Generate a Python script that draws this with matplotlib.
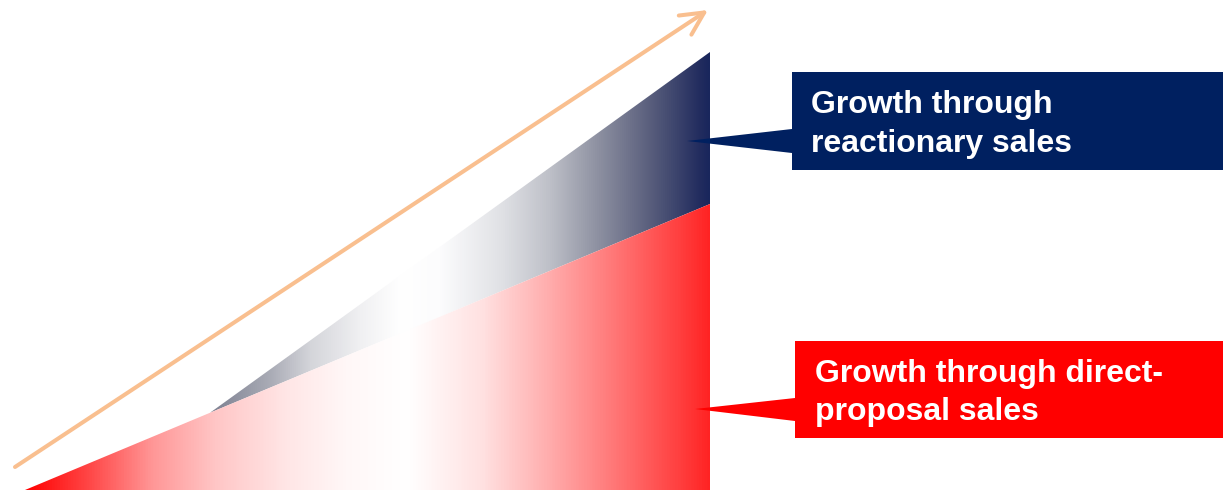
import matplotlib.pyplot as plt
from matplotlib.patches import Polygon
from matplotlib.colors import LinearSegmentedColormap
import numpy as np

# Sales growth over time: the lower wedge is direct-proposal sales,
# the upper wedge is growth through reactionary sales
x_direct = [25, 710]
direct_sales = [1, 287]
x_reactive = [210, 710]
reactive_top = [79, 439]
trend_x = [15, 708]
trend_y = [24, 481]

labels = ['Growth through\nreactionary sales', 'Growth through direct-\nproposal sales']

plt.rcParams['font.family'] = ['Liberation Sans', 'DejaVu Sans']

fig = plt.figure(figsize=(12.23, 4.91), dpi=100)
ax = fig.add_axes([0, 0, 1, 1])
ax.set_xlim(0, 1223)
ax.set_ylim(0, 491)
ax.axis('off')

# red -> white -> red fade (green/blue channel level at each stop)
red_stops = [(0.0, 0.0), (0.09, 0.27), (0.185, 0.59), (0.28, 0.78), (0.38, 0.9),
             (0.47, 0.97), (0.56, 1.0), (0.67, 0.88), (0.76, 0.69),
             (0.86, 0.47), (0.96, 0.24), (1.0, 0.14)]
red_cmap = LinearSegmentedColormap.from_list(
    'red_fade', [(t, (1, v, v)) for t, v in red_stops])

navy_stops = [(0.0, (125, 128, 145)), (0.12, (170, 172, 182)), (0.2, (212, 213, 218)),
              (0.3, (240, 240, 242)), (0.38, (255, 255, 255)), (0.46, (252, 252, 253)),
              (0.58, (225, 226, 230)), (0.68, (190, 192, 200)), (0.78, (140, 143, 160)),
              (0.88, (90, 95, 125)), (0.98, (35, 45, 95)), (1.0, (25, 38, 92))]
navy_cmap = LinearSegmentedColormap.from_list(
    'navy_fade', [(t, tuple(c / 255 for c in rgb)) for t, rgb in navy_stops])

grad = np.linspace(0, 1, 512).reshape(1, -1)

# reactionary wedge sits on top of the direct-sales edge
y_split = np.interp(x_reactive[0], x_direct, direct_sales)
navy_poly = Polygon([(x_reactive[0], y_split), (x_reactive[1], reactive_top[1]),
                     (x_direct[1], direct_sales[1])], closed=True,
                    facecolor='none', edgecolor='none')
ax.add_patch(navy_poly)
im = ax.imshow(grad, cmap=navy_cmap, aspect='auto',
               extent=[x_reactive[0], x_reactive[1], 0, reactive_top[1]])
im.set_clip_path(navy_poly)

red_poly = Polygon([(x_direct[0], direct_sales[0]), (x_direct[1], direct_sales[1]),
                    (x_direct[1], direct_sales[0])], closed=True,
                   facecolor='none', edgecolor='none')
ax.add_patch(red_poly)
im = ax.imshow(grad, cmap=red_cmap, aspect='auto',
               extent=[x_direct[0], x_direct[1], 0, direct_sales[1]])
im.set_clip_path(red_poly)

# overall growth arrow
ax.annotate('', xy=(trend_x[1], trend_y[1]), xytext=(trend_x[0], trend_y[0]),
            arrowprops=dict(arrowstyle='->,head_length=1.1,head_width=0.55',
                            color='#F9BF8F', lw=2.9, mutation_scale=15,
                            capstyle='round', shrinkA=0, shrinkB=0))

# callouts
navy = '#002060'
ax.add_patch(Polygon([(792, 419), (1230, 419), (1230, 321), (792, 321),
                      (792, 338), (687, 350), (792, 362)],
                     closed=True, facecolor=navy, edgecolor='none'))
ax.add_patch(Polygon([(795, 150), (1230, 150), (1230, 53), (795, 53),
                      (795, 70), (695, 82), (795, 93)],
                     closed=True, facecolor='#FF0000', edgecolor='none'))

navy_lines = labels[0].split('\n')
red_lines = labels[1].split('\n')
for y, line in zip([378, 339], navy_lines):
    ax.text(811, y, line, color='white', fontsize=23, fontweight='bold', va='baseline')
for y, line in zip([109, 71], red_lines):
    ax.text(815, y, line, color='white', fontsize=23, fontweight='bold', va='baseline')

fig.savefig('out.png', dpi=100, facecolor='white')
